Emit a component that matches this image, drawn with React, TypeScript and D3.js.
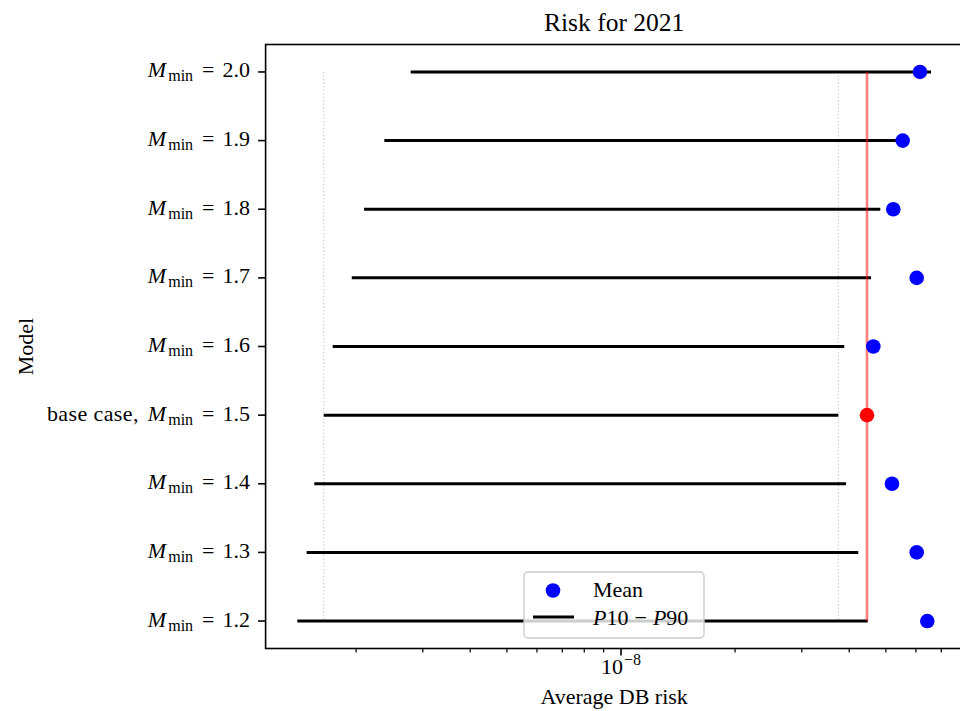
import React from "react";
import * as d3 from "d3";

// Models listed bottom to top
const models = ["1.2", "1.3", "1.4", "1.5", "1.6", "1.7", "1.8", "1.9", "2.0"];
const baseModel = "1.5";
const p10 = [1.399e-9, 1.481e-9, 1.551e-9, 1.643e-9, 1.735e-9, 1.948e-9, 2.099e-9, 2.374e-9, 2.787e-9];
const p90 = [4.477e-8, 4.228e-8, 3.923e-8, 3.745e-8, 3.883e-8, 4.567e-8, 4.833e-8, 5.557e-8, 6.577e-8];
const meanRisk = [6.43e-8, 6.029e-8, 5.188e-8, 4.458e-8, 4.632e-8, 6.029e-8, 5.23e-8, 5.537e-8, 6.151e-8];

const W = 960;
const H = 711;
const axLeft = 265.6;
const axRight = 962.7;
const axTop = 44.5;
const axBottom = 648.5;
const FONT = "'Liberation Serif', 'Times New Roman', serif";

export default function App() {
  const baseIdx = models.indexOf(baseModel);
  const all = [...p10, ...p90, ...meanRisk];
  const lmin = Math.log10(d3.min(all) as number);
  const lmax = Math.log10(d3.max(all) as number);
  const pad = (lmax - lmin) * 0.05;
  const x = d3
    .scaleLog()
    .domain([Math.pow(10, lmin - pad), Math.pow(10, lmax + pad)])
    .range([axLeft, axRight]);
  const y = d3
    .scaleLinear()
    .domain([-0.4, models.length - 1 + 0.4])
    .range([axBottom, axTop]);

  const [d0, d1] = x.domain();
  const majors: number[] = [];
  const minors: number[] = [];
  for (let k = Math.floor(Math.log10(d0)); k <= Math.ceil(Math.log10(d1)); k++) {
    for (let m = 1; m <= 9; m++) {
      const v = m * Math.pow(10, k);
      if (v >= d0 && v <= d1) (m === 1 ? majors : minors).push(v);
    }
  }

  const yTop = y(models.length - 1);
  const yBot = y(0);
  const baseMean = meanRisk[baseIdx];

  return (
    <svg
      width={W}
      height={H}
      style={{ position: "absolute", left: 0, top: 0, background: "#fff" }}
      fontFamily={FONT}
    >
      {/* dotted reference lines at base case P10 / P90 */}
      {[p10[baseIdx], p90[baseIdx]].map((v, i) => (
        <line
          key={"g" + i}
          x1={x(v)}
          x2={x(v)}
          y1={yTop}
          y2={yBot}
          stroke="#c8c8c8"
          strokeWidth={1}
          strokeDasharray="1.5,2"
        />
      ))}
      {/* P10-P90 ranges */}
      {models.map((m, i) => (
        <line
          key={"r" + m}
          x1={x(p10[i])}
          x2={x(p90[i])}
          y1={y(i)}
          y2={y(i)}
          stroke="#000"
          strokeWidth={3}
        />
      ))}
      {/* base case mean line */}
      <line
        x1={x(baseMean)}
        x2={x(baseMean)}
        y1={yTop}
        y2={yBot}
        stroke="#ff0000"
        strokeOpacity={0.5}
        strokeWidth={2.6}
      />
      {/* means */}
      {models.map((m, i) => (
        <circle
          key={"m" + m}
          cx={x(meanRisk[i])}
          cy={y(i)}
          r={7.3}
          fill={m === baseModel ? "#ff0000" : "#0000ff"}
        />
      ))}

      {/* spines */}
      <rect
        x={axLeft}
        y={axTop}
        width={axRight - axLeft}
        height={axBottom - axTop}
        fill="none"
        stroke="#000"
        strokeWidth={1.6}
      />

      {/* x ticks */}
      {minors.map((v) => (
        <line key={"mi" + v} x1={x(v)} x2={x(v)} y1={axBottom} y2={axBottom + 4} stroke="#000" strokeWidth={1.2} />
      ))}
      {majors.map((v) => {
        const k = Math.round(Math.log10(v));
        return (
          <g key={"ma" + v}>
            <line x1={x(v)} x2={x(v)} y1={axBottom} y2={axBottom + 7} stroke="#000" strokeWidth={1.6} />
            <text x={x(v)} y={674} textAnchor="middle" fontSize={22} fill="#000">
              10
              <tspan fontSize={16} dy={-9} dx={1}>
                {"\u2212" + Math.abs(k)}
              </tspan>
            </text>
          </g>
        );
      })}

      {/* y ticks */}
      {models.map((m, i) => (
        <g key={"yt" + m}>
          <line x1={axLeft - 7.5} x2={axLeft} y1={y(i)} y2={y(i)} stroke="#000" strokeWidth={1.6} />
          <text x={250} y={y(i) + 5.5} textAnchor="end" fontSize={22} fill="#000">
            {m === baseModel ? <tspan letterSpacing={0.4}>base case,</tspan> : null}
            <tspan fontStyle="italic" dx={m === baseModel ? 9 : 0}>
              M
            </tspan>
            <tspan fontSize={16} dy={4} dx={2}>
              min
            </tspan>
            <tspan dy={-4} dx={9}>
              =
            </tspan>
            <tspan dx={8}>{m}</tspan>
          </text>
        </g>
      ))}

      {/* legend */}
      <g>
        <rect x={524} y={572} width={180} height={66} rx={4} ry={4} fill="#fff" fillOpacity={0.8} stroke="#cccccc" strokeWidth={1.4} />
        <circle cx={553} cy={590.5} r={7.3} fill="#0000ff" />
        <text x={593} y={597} fontSize={22} fill="#000">
          Mean
        </text>
        <line x1={533} x2={574} y1={617} y2={617} stroke="#000" strokeWidth={3} />
        <text x={593} y={625} fontSize={22} fill="#000">
          <tspan fontStyle="italic">P</tspan>
          <tspan>10</tspan>
          <tspan dx={6}>{"\u2212"}</tspan>
          <tspan dx={6} fontStyle="italic">P</tspan>
          <tspan>90</tspan>
        </text>
      </g>

      {/* labels */}
      <text x={(axLeft + axRight) / 2} y={31} textAnchor="middle" fontSize={25.5} fill="#000">
        Risk for 2021
      </text>
      <text x={(axLeft + axRight) / 2} y={704} textAnchor="middle" fontSize={22} fill="#000">
        Average DB risk
      </text>
      <text
        transform={`translate(33, ${(axTop + axBottom) / 2}) rotate(-90)`}
        textAnchor="middle"
        fontSize={22}
        fill="#000"
      >
        Model
      </text>
    </svg>
  );
}
